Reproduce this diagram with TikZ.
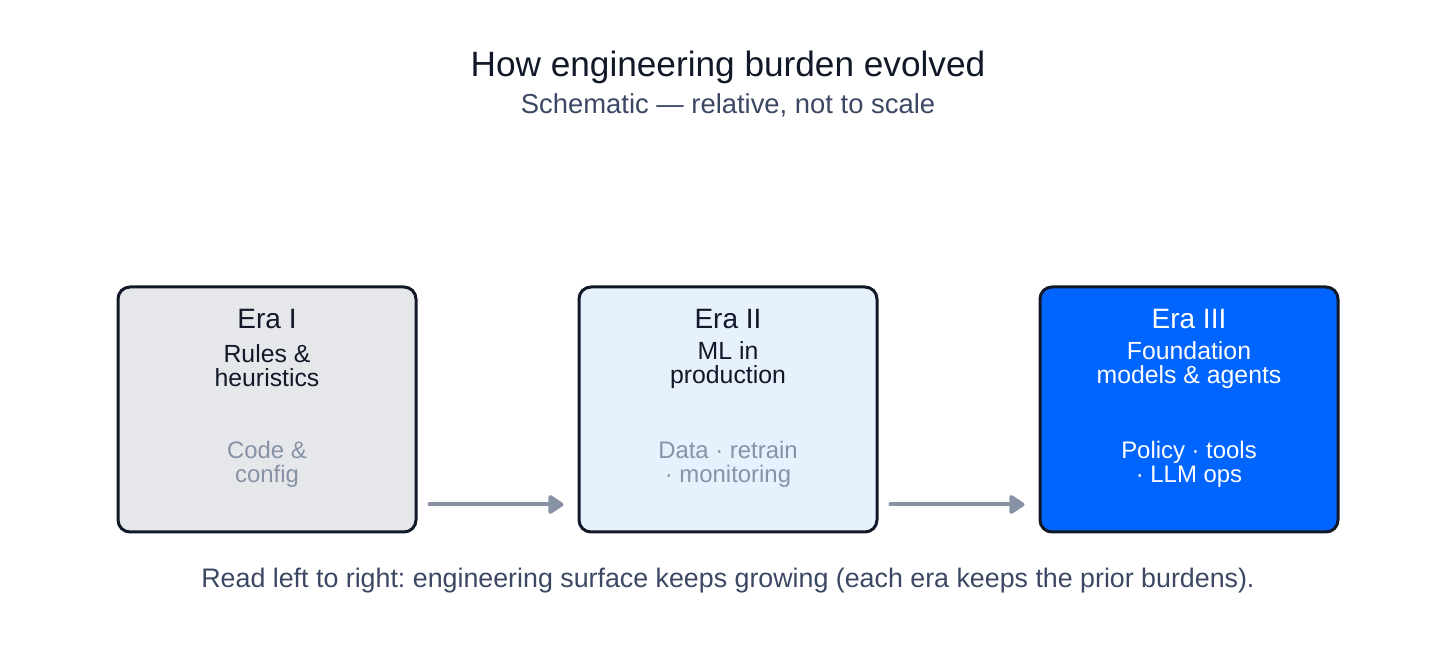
\documentclass[tikz,border=0pt]{standalone}
\usepackage{fontspec}
\setmainfont{Liberation Sans}
\usetikzlibrary{arrows.meta}
\frenchspacing
\definecolor{ink}{HTML}{111827}
\definecolor{slate}{HTML}{3B4763}
\definecolor{muted}{HTML}{8892A5}
\definecolor{fillA}{HTML}{E5E7EB}
\definecolor{fillB}{HTML}{E7F1FD}
\definecolor{fillC}{HTML}{0064FF}
\tikzset{
  erabox/.style={draw=ink, line width=3pt, rounded corners=12pt, minimum width=298pt, minimum height=245pt, inner sep=0pt},
  eralabel/.style={font=\fontsize{28}{30}\selectfont, text=ink, inner sep=0pt},
  eradesc/.style={font=\fontsize{24.8}{24}\selectfont, text=ink, align=center, inner sep=0pt},
  eraburden/.style={font=\fontsize{23.9}{24}\selectfont, text=muted, align=center, inner sep=0pt},
  flow/.style={draw=muted, line width=4pt, line cap=round, -{Triangle[length=17pt,width=21pt,round]}},
}
\begin{document}
\begin{tikzpicture}[x=1pt,y=1pt]
\useasboundingbox (0,0) rectangle (1456,658);
\node[font=\fontsize{35.2}{38}\selectfont, text=ink, inner sep=0pt] (title) at (728,591) {How engineering burden evolved};
\node[font=\fontsize{27.4}{30}\selectfont, text=slate, inner sep=0pt] (sub) at (728,553) {Schematic — relative, not to scale};

\node[erabox, fill=fillA] (e1) at (267,248.5) {};
\node[erabox, fill=fillB] (e2) at (728,248.5) {};
\node[erabox, fill=fillC] (e3) at (1189,248.5) {};

\node[eralabel] (l1) at (267,339) {Era I};
\node[eradesc] (d1) at (267,292.5) {Rules \&\\heuristics};
\node[eraburden] (b1) at (267,194) {Code \&\\config};

\node[eralabel] (l2) at (728,339) {Era II};
\node[eradesc] (d2) at (728,292.5) {ML in\\production};
\node[eraburden] (b2) at (728,194) {Data · retrain\\· monitoring};

\node[eralabel, text=white] (l3) at (1189,339) {Era III};
\node[eradesc, text=white] (d3) at (1189,292.5) {Foundation\\models \& agents};
\node[eraburden, text=white] (b3) at (1189,194) {Policy · tools\\· LLM ops};

\draw[flow] ([xshift=12pt,yshift=29pt]e1.south east) -- ([xshift=-14pt,yshift=29pt]e2.south west);
\draw[flow] ([xshift=12pt,yshift=29pt]e2.south east) -- ([xshift=-14pt,yshift=29pt]e3.south west);

\node[font=\fontsize{26.8}{30}\selectfont, text=slate, inner sep=0pt] (cap) at (728,77) {Read left to right: engineering surface keeps growing (each era keeps the prior burdens).};
\end{tikzpicture}
\end{document}
